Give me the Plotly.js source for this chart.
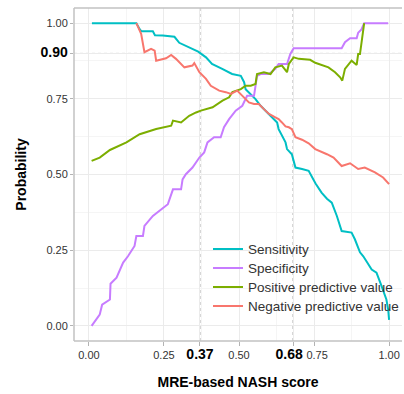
<!DOCTYPE html>
<html>
<head>
<meta charset="utf-8">
<script src="https://cdn.plot.ly/plotly-3.0.1.min.js"></script>
<style>html,body{margin:0;padding:0;background:#fff;overflow:hidden;}#chart{width:404px;height:394px;}</style>
</head>
<body>
<div id="chart"></div>
<script>
var sensX = [0.01, 0.158, 0.169, 0.175, 0.213, 0.22, 0.246, 0.285, 0.301, 0.334, 0.364, 0.39, 0.41, 0.444, 0.477, 0.506, 0.517, 0.522, 0.539, 0.555, 0.572, 0.588, 0.61, 0.627, 0.632, 0.643, 0.655, 0.66, 0.676, 0.682, 0.688, 0.71, 0.732, 0.755, 0.775, 0.793, 0.809, 0.826, 0.842, 0.875, 0.886, 0.903, 0.914, 0.942, 0.958, 0.975, 0.991, 0.997, 1.0];
var sensY = [1, 1, 0.98, 0.973, 0.973, 0.96, 0.959, 0.955, 0.935, 0.92, 0.906, 0.887, 0.865, 0.849, 0.832, 0.826, 0.805, 0.782, 0.766, 0.749, 0.727, 0.711, 0.689, 0.672, 0.65, 0.628, 0.606, 0.584, 0.567, 0.545, 0.523, 0.518, 0.512, 0.47, 0.44, 0.42, 0.407, 0.363, 0.313, 0.308, 0.286, 0.243, 0.23, 0.186, 0.176, 0.131, 0.087, 0.054, 0.02];

var specX = [0.009, 0.036, 0.044, 0.07, 0.072, 0.092, 0.114, 0.13, 0.152, 0.158, 0.18, 0.185, 0.213, 0.263, 0.28, 0.307, 0.312, 0.323, 0.345, 0.368, 0.384, 0.395, 0.417, 0.439, 0.45, 0.467, 0.489, 0.511, 0.527, 0.55, 0.555, 0.56, 0.572, 0.6, 0.621, 0.632, 0.66, 0.671, 0.682, 0.842, 0.853, 0.87, 0.892, 0.897, 0.908, 0.917, 0.997];
var specY = [0, 0.037, 0.07, 0.087, 0.139, 0.159, 0.209, 0.23, 0.264, 0.297, 0.297, 0.33, 0.363, 0.402, 0.451, 0.451, 0.484, 0.501, 0.523, 0.556, 0.573, 0.606, 0.623, 0.623, 0.656, 0.683, 0.711, 0.727, 0.76, 0.76, 0.793, 0.826, 0.832, 0.832, 0.849, 0.865, 0.865, 0.898, 0.917, 0.917, 0.937, 0.95, 0.95, 0.968, 0.979, 1.0, 1.0];

var ppvX = [0.009, 0.036, 0.07, 0.125, 0.169, 0.224, 0.274, 0.28, 0.307, 0.334, 0.357, 0.373, 0.412, 0.445, 0.467, 0.478, 0.506, 0.522, 0.539, 0.555, 0.56, 0.583, 0.605, 0.621, 0.643, 0.66, 0.666, 0.682, 0.699, 0.737, 0.754, 0.798, 0.82, 0.837, 0.844, 0.853, 0.875, 0.892, 0.897, 0.903, 0.917];
var ppvY = [0.545, 0.556, 0.581, 0.606, 0.633, 0.65, 0.661, 0.678, 0.672, 0.694, 0.705, 0.711, 0.722, 0.744, 0.755, 0.772, 0.782, 0.793, 0.793, 0.799, 0.832, 0.838, 0.832, 0.854, 0.86, 0.838, 0.865, 0.887, 0.882, 0.879, 0.869, 0.854, 0.838, 0.821, 0.81, 0.849, 0.876, 0.862, 0.898, 0.898, 1.0];

var npvX = [0.158, 0.174, 0.185, 0.207, 0.219, 0.224, 0.257, 0.274, 0.29, 0.318, 0.345, 0.351, 0.368, 0.39, 0.406, 0.434, 0.456, 0.473, 0.494, 0.517, 0.533, 0.55, 0.566, 0.583, 0.6, 0.621, 0.632, 0.643, 0.655, 0.666, 0.676, 0.688, 0.71, 0.732, 0.754, 0.793, 0.815, 0.842, 0.87, 0.897, 0.919, 0.953, 0.98, 1.0];
var npvY = [1.0, 0.965, 0.904, 0.915, 0.909, 0.876, 0.884, 0.895, 0.882, 0.854, 0.86, 0.868, 0.838, 0.816, 0.793, 0.777, 0.772, 0.766, 0.777, 0.755, 0.738, 0.733, 0.733, 0.716, 0.7, 0.689, 0.683, 0.672, 0.659, 0.656, 0.65, 0.623, 0.615, 0.603, 0.584, 0.567, 0.556, 0.528, 0.537, 0.518, 0.523, 0.507, 0.49, 0.468];

var seriesNames = ["Sensitivity", "Specificity", "Positive predictive value", "Negative predictive value"];
var seriesColors = ["#00BFC4", "#C77CFF", "#7CAE00", "#F8766D"];

var xTickVals = [0, 0.25, 0.37, 0.5, 0.68, 0.75, 1];
var xTickText = ["0.00", "0.25", "<b><span style='font-size:14px;fill:#000'>0.37</span></b>", "0.50", "<b><span style='font-size:14px;fill:#000'>0.68\u2007</span></b>", "\u20070.75", "1.00"];
var yTickVals = [0, 0.25, 0.5, 0.75, 0.9, 1];
var yTickText = ["0.00", "0.25", "0.50", "0.75", "<b><span style='font-size:14px;fill:#000'>0.90</span></b>", "1.00"];
var minorVals = [0.125, 0.375, 0.625, 0.875];
var cutX = [0.37, 0.68];
var cutY = [0.9];

var xs = [sensX, specX, ppvX, npvX];
var ys = [sensY, specY, ppvY, npvY];
var traces = [];
for (var i = 0; i < 4; i++) {
  traces.push({
    x: xs[i], y: ys[i], type: "scatter", mode: "lines",
    name: "<span style='font-size:13.5px'>" + seriesNames[i] + "</span>",
    line: {color: seriesColors[i], width: 2, shape: "linear"}
  });
}
var shapes = [];
cutX.forEach(function (v) {
  shapes.push({type: "line", xref: "x", yref: "paper", x0: v, x1: v, y0: 0, y1: 1, layer: "below",
    line: {color: "#a8a8a8", width: 1, dash: "dot"}});
});
cutY.forEach(function (v) {
  shapes.push({type: "line", xref: "paper", yref: "y", x0: 0, x1: 1, y0: v, y1: v, layer: "below",
    line: {color: "#a8a8a8", width: 1, dash: "dot"}});
});
var border = {color: "#c2c2c2", width: 1.5};
shapes.push({type: "line", xref: "paper", yref: "paper", x0: 0, x1: 1, y0: 1, y1: 1, line: border});
shapes.push({type: "line", xref: "paper", yref: "paper", x0: 0, x1: 0, y0: 0, y1: 1, line: border});
shapes.push({type: "line", xref: "paper", yref: "paper", x0: 0, x1: 1, y0: 0, y1: 0, line: border});

var tickFont = {family: "Liberation Sans, Arial, sans-serif", size: 11, color: "#333333"};
var layout = {
  width: 404, height: 394,
  margin: {l: 74, r: 0, t: 8, b: 53, pad: 0},
  paper_bgcolor: "#ffffff", plot_bgcolor: "#ffffff",
  font: {family: "Liberation Sans, Arial, sans-serif", color: "#000"},
  showlegend: true,
  legend: {x: 0.409, xanchor: "left", y: 0.32, yanchor: "top", bgcolor: "rgba(0,0,0,0)",
    font: {family: "Liberation Sans, Arial, sans-serif", size: 12, color: "#333333"}, tracegroupgap: 0},
  xaxis: {
    range: [-0.0497, 1.043], tickmode: "array", tickvals: xTickVals, ticktext: xTickText, tickangle: 0,
    tickfont: tickFont, ticks: "outside", ticklen: 4, tickcolor: "#b3b3b3",
    showgrid: true, gridcolor: "#ebebeb", gridwidth: 1, zeroline: false, showline: false,
    minor: {tickmode: "array", tickvals: minorVals, showgrid: true, gridcolor: "#f5f5f5", gridwidth: 1, ticks: ""},
    title: {text: "<b>MRE-based NASH score</b>", font: {size: 14, color: "#000"}, standoff: 15}
  },
  yaxis: {
    range: [-0.05, 1.05], tickmode: "array", tickvals: yTickVals, ticktext: yTickText,
    tickfont: tickFont, ticks: "outside", ticklen: 3, tickcolor: "#b3b3b3",
    showgrid: true, gridcolor: "#ebebeb", gridwidth: 1, zeroline: false, showline: false,
    minor: {tickmode: "array", tickvals: minorVals, showgrid: true, gridcolor: "#f5f5f5", gridwidth: 1, ticks: ""},
    title: {text: "<b>Probability</b>", font: {size: 14, color: "#000"}, standoff: 10}
  },
  shapes: shapes
};
Plotly.newPlot("chart", traces, layout, {displayModeBar: false, staticPlot: true});
</script>
</body>
</html>
